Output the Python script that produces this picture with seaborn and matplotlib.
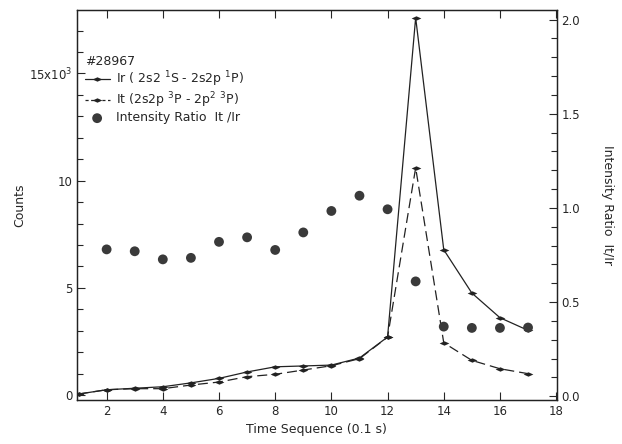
import matplotlib
matplotlib.use("Agg")
import matplotlib.pyplot as plt
import seaborn as sns
import pandas as pd
from matplotlib.ticker import MultipleLocator, FixedLocator, FixedFormatter, FormatStrFormatter

# values
time_seq = [1, 2, 3, 4, 5, 6, 7, 8, 9, 10, 11, 12, 13, 14, 15, 16, 17]
ir_counts = [50, 250, 320, 390, 570, 780, 1080, 1320, 1360, 1400, 1730, 2710,
             17600, 6780, 4760, 3610, 3020]
it_counts = [50, 250, 300, 300, 470, 610, 860, 970, 1170, 1370, 1700, 2700,
             10600, 2440, 1620, 1230, 1000]
ratio_time = [2, 3, 4, 5, 6, 7, 8, 9, 10, 11, 12, 13, 14, 15, 16, 17]
ratio_vals = [0.78, 0.77, 0.727, 0.735, 0.82, 0.844, 0.777, 0.87, 0.984, 1.065,
              0.993, 0.61, 0.37, 0.363, 0.363, 0.365]

df = pd.DataFrame({"t": time_seq, "ir": ir_counts, "it": it_counts})
df_ratio = pd.DataFrame({"t": ratio_time, "ratio": ratio_vals})

sns.set_style("ticks")
plt.rcParams['font.family'] = ['DejaVu Sans']
plt.rcParams['font.size'] = 8.5

# flat diamond marker like the original
flat_diamond = [(-1, 0), (0, 0.45), (1, 0), (0, -0.45), (-1, 0)]

fig = plt.figure(figsize=(6.22, 4.44), dpi=100)
ax = fig.add_axes([0.124, 0.099, 0.771, 0.878])

sns.lineplot(data=df, x="t", y="ir", ax=ax, color="#222222", linewidth=0.9,
             marker=flat_diamond, markersize=7, markeredgewidth=0,
             label="Ir ( 2s2 $^{1}$S - 2s2p $^{1}$P)")
sns.lineplot(data=df, x="t", y="it", ax=ax, color="#222222", linewidth=0.9,
             marker=flat_diamond, markersize=7, markeredgewidth=0,
             label="It (2s2p $^{3}$P - 2p$^{2}$ $^{3}$P)")
ax.lines[1].set_dashes((8, 4))

ax.set_xlim(0.95, 18.02)
ax.set_ylim(-230, 17950)
ax.xaxis.set_major_locator(MultipleLocator(2))
ax.yaxis.set_major_locator(FixedLocator([0, 5000, 10000, 15000]))
ax.yaxis.set_major_formatter(FixedFormatter(["0", "5", "10", "15x10$^{3}$"]))
ax.yaxis.set_minor_locator(MultipleLocator(1000))
ax.tick_params(which="both", direction="in", top=True, labeltop=False)
ax.tick_params(which="major", length=6, width=0.8)
ax.tick_params(which="minor", length=4, width=0.8)
ax.tick_params(axis="x", which="minor", length=0)
ax.set_xlabel("Time Sequence (0.1 s)", fontsize=9)
ax.set_ylabel("Counts", fontsize=9, labelpad=2)

ax2 = ax.twinx()
sns.scatterplot(data=df_ratio, x="t", y="ratio", ax=ax2, color="#3a3a3a", s=50,
                edgecolor="none", label="Intensity Ratio  It /Ir")
ax2.set_ylim(-0.02, 2.05)
ax2.yaxis.set_major_locator(MultipleLocator(0.5))
ax2.yaxis.set_minor_locator(MultipleLocator(0.1))
ax2.yaxis.set_major_formatter(FormatStrFormatter("%.1f"))
ax2.tick_params(which="both", direction="in")
ax2.tick_params(which="major", length=6, width=0.8)
ax2.tick_params(which="minor", length=4, width=0.8)
ax2.set_ylabel("Intensity Ratio  It/Ir", fontsize=9, rotation=-90, labelpad=24)

for a in (ax, ax2):
    for s in a.spines.values():
        s.set_linewidth(0.9)
        s.set_color("#222222")

h1, l1 = ax.get_legend_handles_labels()
h2, l2 = ax2.get_legend_handles_labels()
ax.get_legend().remove()
ax2.get_legend().remove()
leg = ax2.legend(h1 + h2, l1 + l2, title="#28967", loc="upper left",
                 bbox_to_anchor=(0.0, 0.905), frameon=False, fontsize=9,
                 title_fontsize=9, handlelength=2.0, borderaxespad=0.2,
                 labelspacing=0.12, handletextpad=0.5)
leg._legend_box.align = "left"
leg.get_lines()[1].set_dashes((2.5, 2))

fig.savefig("out.png", dpi=100)
